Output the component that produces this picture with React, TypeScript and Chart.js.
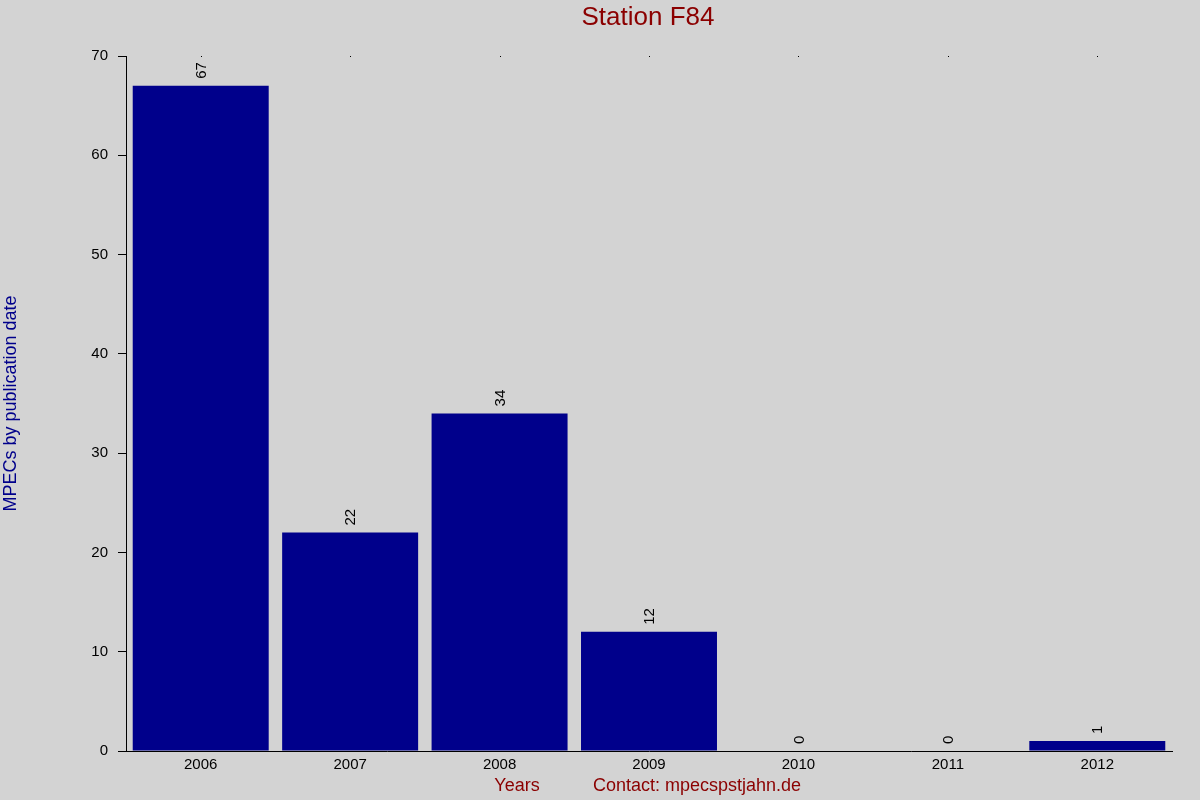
import React, { useEffect, useRef } from "react";
import Chart from "chart.js/auto";

const years = ["2006", "2007", "2008", "2009", "2010", "2011", "2012"];
const mpecCounts = [67, 22, 34, 12, 0, 0, 1];
const yTicks = [0, 10, 20, 30, 40, 50, 60, 70];

const chartTitle = "Station F84";
const yTitle = "MPECs by publication date";
const xTitle = "Years";
const contactText = "Contact: mpecspstjahn.de";

const FONT = "'Liberation Sans', Arial, sans-serif";

const App: React.FC = () => {
  const canvasRef = useRef<HTMLCanvasElement>(null);
  const chartInstance = useRef<Chart | null>(null);

  useEffect(() => {
    document.body.style.margin = "0";
    if (!canvasRef.current) return;
    if (chartInstance.current) chartInstance.current.destroy();

    const ctx = canvasRef.current.getContext("2d");
    if (!ctx) return;

    // value labels above each bar, rotated
    const valueLabels = {
      id: "valueLabels",
      afterDatasetsDraw(chart: any) {
        const c = chart.ctx;
        const meta = chart.getDatasetMeta(0);
        c.save();
        c.fillStyle = "#000";
        c.font = `15px ${FONT}`;
        c.textAlign = "left";
        c.textBaseline = "middle";
        meta.data.forEach((bar: any, i: number) => {
          c.save();
          c.translate(bar.x + 1, bar.y - 7);
          c.rotate(-Math.PI / 2);
          c.fillText(String(mpecCounts[i]), 0, 0);
          c.restore();
        });
        c.restore();
      },
    };

    // titles, footer text and the little top tick dots
    const decorations = {
      id: "decorations",
      afterDraw(chart: any) {
        const c = chart.ctx;
        const area = chart.chartArea;
        const xScale = chart.scales.x;
        c.save();
        c.fillStyle = "#000";
        years.forEach((_, i) => {
          const x = Math.round(xScale.getPixelForValue(i));
          c.fillRect(x, area.top, 1, 1);
        });

        const cx = (area.left + area.right) / 2;
        c.textAlign = "center";
        c.textBaseline = "middle";
        c.fillStyle = "#8B0000";
        c.font = `26px ${FONT}`;
        c.fillText(chartTitle, cx - 1, 18);

        c.font = `18px ${FONT}`;
        c.fillText(xTitle, 517, 786);
        c.fillText(contactText, 697, 786);

        c.fillStyle = "#00008B";
        c.translate(11, (area.top + area.bottom) / 2);
        c.rotate(-Math.PI / 2);
        c.fillText(yTitle, 0, 0);
        c.restore();
      },
    };

    chartInstance.current = new Chart(ctx, {
      type: "bar",
      data: {
        labels: years,
        datasets: [
          {
            label: "MPECs",
            data: mpecCounts,
            backgroundColor: "#00008B",
            borderWidth: 0,
            inflateAmount: 0,
            categoryPercentage: 1,
            barPercentage: 0.91,
          },
        ],
      },
      options: {
        animation: false,
        responsive: true,
        maintainAspectRatio: false,
        layout: { padding: { left: 0, top: 56, right: 28, bottom: 0 } },
        plugins: {
          legend: { display: false },
          title: { display: false },
          tooltip: { enabled: false },
        },
        scales: {
          x: {
            grid: { display: false, drawTicks: false },
            border: { display: true, color: "#000", width: 1 },
            ticks: {
              color: "#000",
              font: { family: FONT, size: 15 },
              padding: 5,
              maxRotation: 0,
            },
            afterFit(scale: any) {
              scale.height = 49;
            },
          },
          y: {
            min: 0,
            max: 70,
            afterBuildTicks(scale: any) {
              scale.ticks = yTicks.map((v) => ({ value: v }));
            },
            grid: {
              display: true,
              drawOnChartArea: false,
              drawTicks: true,
              tickLength: 8,
              color: "#000",
            },
            border: { display: true, color: "#000", width: 1 },
            ticks: {
              color: "#000",
              font: { family: FONT, size: 15 },
              padding: 10,
            },
            afterFit(scale: any) {
              scale.width = 126;
            },
          },
        },
      },
      plugins: [valueLabels, decorations],
    });

    return () => {
      if (chartInstance.current) {
        chartInstance.current.destroy();
        chartInstance.current = null;
      }
    };
  }, []);

  return (
    <div style={{ width: 1200, height: 800, background: "#d3d3d3", position: "relative" }}>
      <canvas ref={canvasRef} />
    </div>
  );
};

export default App;
